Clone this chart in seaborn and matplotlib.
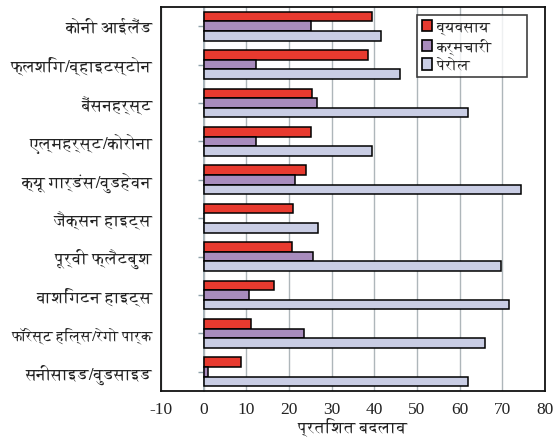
import matplotlib
matplotlib.use("Agg")
import matplotlib.pyplot as plt
import seaborn as sns
import pandas as pd
from matplotlib import font_manager as fm
from matplotlib.patches import Patch

categories = ["कोनी आईलैंड", "फ्लशिंग/व्हाइटस्टोन", "बैंसनहर्स्ट", "एल्महर्स्ट/कोरोना",
              "क्यू गार्डंस/वुडहेवन", "जैक्सन हाइट्स", "पूर्वी फ्लैटबुश", "वाशिंगटन हाइट्स",
              "फॉरेस्ट हिल्स/रेगो पार्क", "सनीसाइड/वुडसाइड"]
series_names = ["व्यवसाय", "कर्मचारी", "पेरोल"]
business = [39.4, 38.6, 25.5, 25.1, 24.1, 20.9, 20.6, 16.5, 11.2, 8.7]
employees = [25.1, 12.3, 26.6, 12.2, 21.3, 0.0, 25.7, 10.7, 23.5, 1.1]
payroll = [41.6, 46.0, 62.0, 39.4, 74.4, 26.7, 69.6, 71.6, 66.0, 61.9]
x_ticks = [-10, 0, 10, 20, 30, 40, 50, 60, 70, 80]
x_label = "प्रतिशत बदलाव"

colors = ["#e83a2f", "#a88cbd", "#c9cde4"]


def find_deva_font():
    try:
        from fontTools.ttLib import TTFont
    except Exception:
        return None
    best = None
    for path in fm.findSystemFonts():
        try:
            tt = TTFont(path, fontNumber=0, lazy=True)
            cmap = tt.getBestCmap()
            if cmap and 0x0915 in cmap and 0x094D in cmap:
                name = fm.FontProperties(fname=path).get_name()
                fm.fontManager.addfont(path)
                if best is None or "Serif" in name:
                    best = name
        except Exception:
            continue
    return best


sns.set_theme(style="white")
deva = find_deva_font()
text_fams = ([deva] if deva else []) + ["DejaVu Sans"]
num_fams = ["Liberation Serif", "DejaVu Serif"]
plt.rcParams["font.family"] = text_fams

df = pd.DataFrame({
    "category": categories * 3,
    "value": business + employees + payroll,
    "series": [series_names[0]] * len(categories) + [series_names[1]] * len(categories)
              + [series_names[2]] * len(categories),
})

fig = plt.figure(figsize=(5.59, 4.40), dpi=100)
ax = fig.add_axes([161 / 559, 1 - 391 / 440, 384 / 559, 384 / 440])

sns.barplot(data=df, y="category", x="value", hue="series", orient="h",
            palette=colors, width=0.75, edgecolor="black", linewidth=1.1,
            legend=False, ax=ax, saturation=1)

ax.set_xlim(-10, 80)
ax.set_ylim(9.5, -0.5)
ax.set_xticks(x_ticks)
ax.set_xticklabels([str(v) for v in x_ticks], family=num_fams, fontsize=12.5, color="#222222")
ax.tick_params(axis="x", length=0, pad=8)
ax.tick_params(axis="y", length=0, pad=6)
for lab in ax.get_yticklabels():
    lab.set_family(text_fams)
    lab.set_fontsize(12)
    lab.set_color("#222222")
    if lab.get_text().startswith("फॉरेस्ट"):
        lab.set_fontsize(10.5)
ax.set_ylabel("")
ax.set_xlabel(x_label, fontsize=12, family=text_fams, color="#222222", labelpad=0)

ax.grid(axis="x", color="#aeb6ba", linewidth=1.0)
ax.grid(axis="y", visible=False)
ax.set_axisbelow(True)
for s in ax.spines.values():
    s.set_color("#111111")
    s.set_linewidth(1.3)

# zero axis with category ticks
sec = ax.secondary_yaxis(10 / 90)
sec.set_yticks(range(len(categories)))
sec.set_yticklabels([])
sec.tick_params(axis="y", length=4, color="#8fa3ab", width=1.0)
sec.spines["left"].set_color("#8fa3ab")
sec.spines["left"].set_linewidth(1.2)

handles = [Patch(facecolor=c, edgecolor="black", linewidth=1.2) for c in colors]
leg = ax.legend(handles, series_names, loc="upper left",
                bbox_to_anchor=(256 / 384, 1 - 77 / 384 + 7 / 384, 110 / 384, 62 / 384),
                mode="expand", borderaxespad=0, fancybox=False, frameon=True,
                handlelength=0.7, handleheight=0.8, handletextpad=0.3,
                labelspacing=0.22, borderpad=0.3, prop={"family": text_fams, "size": 11})
leg.get_frame().set_edgecolor("#111111")
leg.get_frame().set_linewidth(1.2)

fig.savefig("out.png", dpi=100)
